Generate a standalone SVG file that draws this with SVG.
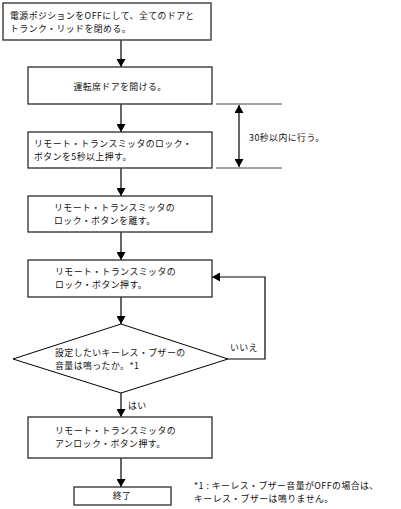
<svg xmlns="http://www.w3.org/2000/svg" width="401" height="509" viewBox="0 0 401 509">
<style>
  .box { fill: #fff; stroke: #3a3a3a; stroke-width: 1.4; }
  .dia { fill: #fff; stroke: #000; stroke-width: 1; }
  .t { font-family: "Noto Sans CJK JP", "Liberation Sans", sans-serif; font-size: 8.9px; letter-spacing: 0.45px; fill: #111; }
  .c { fill: none; stroke: #000; stroke-width: 1.2; }
  .g { fill: none; stroke: #444; stroke-width: 1; }
</style>
<defs>
  <marker id="ah" markerWidth="8" markerHeight="9" refX="8" refY="4.5" orient="auto" markerUnits="userSpaceOnUse">
    <path d="M0,0 L8,4.5 L0,9 Z" fill="#000"/>
  </marker>
  <marker id="ahs" markerWidth="8" markerHeight="9" refX="8" refY="4.5" orient="auto-start-reverse" markerUnits="userSpaceOnUse">
    <path d="M0,0 L8,4.5 L0,9 Z" fill="#000"/>
  </marker>
</defs>
<g id="connectors">
  <line class="c" x1="121" y1="40" x2="121" y2="67" marker-end="url(#ah)"/>
  <line class="c" x1="121" y1="104" x2="121" y2="132" marker-end="url(#ah)"/>
  <line class="c" x1="121" y1="168" x2="121" y2="196" marker-end="url(#ah)"/>
  <line class="c" x1="121" y1="232" x2="121" y2="260" marker-end="url(#ah)"/>
  <line class="c" x1="121" y1="297" x2="121" y2="324" marker-end="url(#ah)"/>
  <line class="c" x1="121" y1="393" x2="121" y2="417" marker-end="url(#ah)"/>
  <line class="c" x1="121" y1="458" x2="121" y2="487" marker-end="url(#ah)"/>
  <polyline class="c" points="228,359 265,359 265,277 212,277" marker-end="url(#ah)"/>
  <line class="g" x1="216" y1="104" x2="282" y2="104"/>
  <line class="g" x1="216" y1="168" x2="282" y2="168"/>
  <line class="c" x1="239" y1="105" x2="239" y2="167" marker-start="url(#ahs)" marker-end="url(#ah)"/>
</g>
<g id="n1">
  <rect class="box" x="3" y="3" width="208" height="37"/>
  <text class="t" x="10" y="18.5">電源ポジションをOFFにして、全てのドアと</text>
  <text class="t" x="10" y="31.5">トランク・リッドを閉める。</text>
</g>
<g id="n2">
  <rect class="box" x="28" y="67" width="184" height="37"/>
  <text class="t" x="120" y="89.5" text-anchor="middle">運転席ドアを開ける。</text>
</g>
<g id="n3">
  <rect class="box" x="28" y="132" width="184" height="36"/>
  <text class="t" x="34" y="147">リモート・トランスミッタのロック・</text>
  <text class="t" x="34" y="160">ボタンを5秒以上押す。</text>
</g>
<g id="n4">
  <rect class="box" x="28" y="196" width="184" height="36"/>
  <text class="t" x="54" y="211">リモート・トランスミッタの</text>
  <text class="t" x="54" y="224">ロック・ボタンを離す。</text>
</g>
<g id="n5">
  <rect class="box" x="28" y="260" width="184" height="37"/>
  <text class="t" x="55" y="275">リモート・トランスミッタの</text>
  <text class="t" x="55" y="288">ロック・ボタン押す。</text>
</g>
<g id="n6">
  <polygon class="dia" points="121,324 228,359 121,393 13,359"/>
  <text class="t" x="55" y="356">設定したいキーレス・ブザーの</text>
  <text class="t" x="55" y="369">音量は鳴ったか。*1</text>
</g>
<g id="n7">
  <rect class="box" x="28" y="417" width="184" height="41"/>
  <text class="t" x="55" y="434">リモート・トランスミッタの</text>
  <text class="t" x="55" y="447">アンロック・ボタン押す。</text>
</g>
<g id="n8">
  <rect class="box" x="74" y="487" width="97" height="18"/>
  <text class="t" x="122" y="499" text-anchor="middle">終了</text>
</g>
<g id="labels">
  <text class="t" x="249" y="140.5">30秒以内に行う。</text>
  <text class="t" x="230" y="350.5">いいえ</text>
  <text class="t" x="128" y="408.5">はい</text>
  <text class="t" x="194" y="489">*1 : キーレス・ブザー音量がOFFの場合は、</text>
  <text class="t" x="194" y="502">キーレス・ブザーは鳴りません。</text>
</g>
</svg>
